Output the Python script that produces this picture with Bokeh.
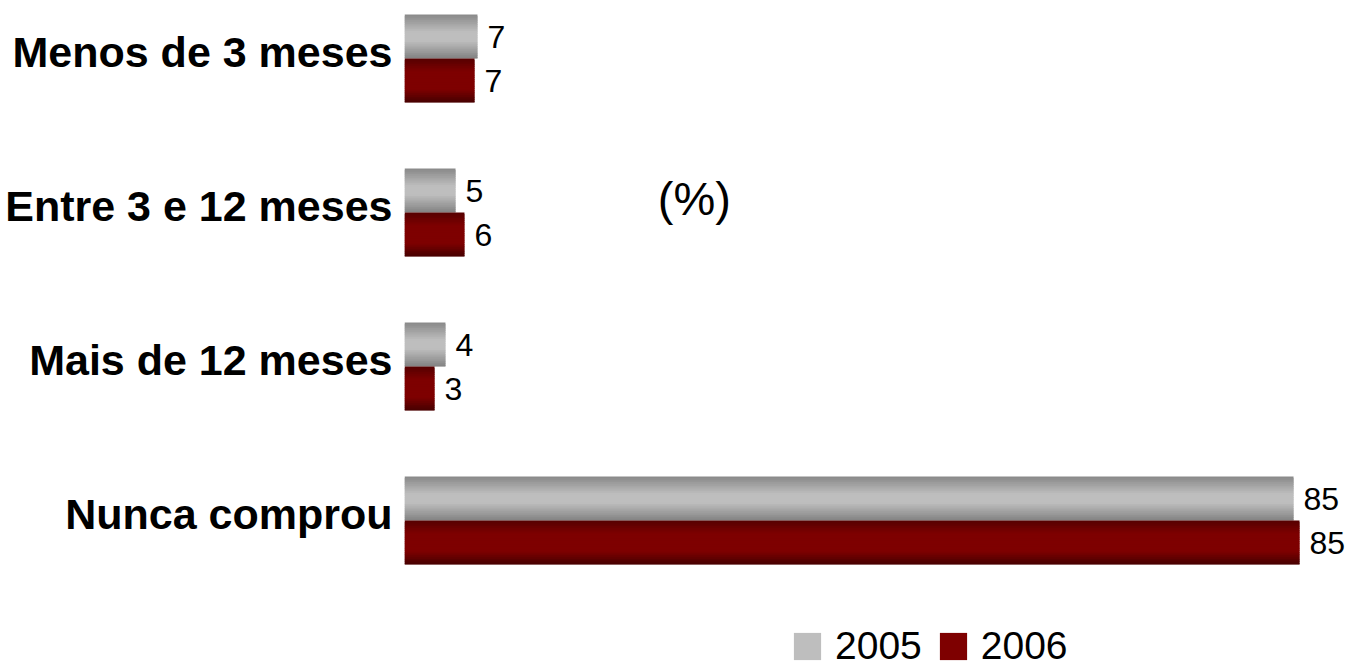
from bokeh.plotting import figure
from bokeh.models import Range1d, FixedTicker, Legend, LegendItem, Label, ColumnDataSource
from bokeh.core.properties import value
from bokeh.embed import file_html
from bokeh.resources import INLINE

categories = ["Menos de 3 meses", "Entre 3 e 12 meses", "Mais de 12 meses", "Nunca comprou"]
series_names = ["2005", "2006"]
values_2005 = [6.95, 4.86, 3.9, 84.67]
values_2006 = [6.67, 5.71, 2.86, 85.24]
labels_2005 = ["7", "5", "4", "85"]
labels_2006 = ["7", "6", "3", "85"]
unit_title = "(%)"

FONT = "Liberation Sans"
BAR_H = 0.2857        # height of one bar, in category units
GROUP_SHIFT = 0.0455  # bars sit slightly below the label centre
N_STRIPS = 24

W, H = 1345, 668
LEFT = 404
PX_PER_UNIT = 10.5
PX_PER_CAT = 154.0
TOP_CAT_PX = 51.0

p = figure(width=W, height=H, output_backend="svg", toolbar_location=None,
           x_range=Range1d(0, (W - LEFT) / PX_PER_UNIT),
           y_range=Range1d((H - TOP_CAT_PX) / PX_PER_CAT, -TOP_CAT_PX / PX_PER_CAT),
           min_border_left=LEFT, min_border_right=0, min_border_top=0, min_border_bottom=0)
p.outline_line_color = None
p.xgrid.visible = False
p.ygrid.visible = False
p.xaxis.visible = False
p.background_fill_color = "white"
p.border_fill_color = "white"

yax = p.yaxis[0]
yax.ticker = FixedTicker(ticks=list(range(len(categories))))
yax.major_label_overrides = {i: c for i, c in enumerate(categories)}
yax.axis_line_color = None
yax.major_tick_line_color = None
yax.major_tick_out = 0
yax.major_tick_in = 0
yax.minor_tick_line_color = None
yax.major_label_text_font = FONT
yax.major_label_text_font_style = "bold"
yax.major_label_text_font_size = "43px"
yax.major_label_text_color = "black"
yax.major_label_standoff = 12


def interp(stops, t):
    for (t0, c0), (t1, c1) in zip(stops, stops[1:]):
        if t0 <= t <= t1:
            f = 0 if t1 == t0 else (t - t0) / (t1 - t0)
            return tuple(int(round(a + (b - a) * f)) for a, b in zip(c0, c1))
    return stops[-1][1]


gray_stops = [(0.0, (136, 136, 136)), (0.4, (190, 190, 190)), (0.6, (190, 190, 190)), (1.0, (130, 130, 130))]
red_stops = [(0.0, (85, 0, 0)), (0.3, (126, 0, 0)), (0.7, (126, 0, 0)), (1.0, (70, 0, 0))]

legend_renderers = {}
n = len(categories)
for s_idx, (vals, labs, stops, shift) in enumerate([
        (values_2005, labels_2005, gray_stops, GROUP_SHIFT - BAR_H / 2),
        (values_2006, labels_2006, red_stops, GROUP_SHIFT + BAR_H / 2)]):
    strip_h = BAR_H / N_STRIPS
    for k in range(N_STRIPS):
        t = (k + 0.5) / N_STRIPS
        col = "#%02x%02x%02x" % interp(stops, t)
        top_off = -BAR_H / 2 + k * strip_h
        bot_off = min(-BAR_H / 2 + (k + 1.8) * strip_h, BAR_H / 2)
        ys = [i + shift + (top_off + bot_off) / 2 for i in range(n)]
        r = p.hbar(y=ys, left=0, right=vals, height=bot_off - top_off,
                   fill_color=col, line_color=None)
        if k == N_STRIPS // 2:
            legend_renderers[s_idx] = r
    src = ColumnDataSource(dict(x=vals, y=[i + shift for i in range(n)], t=labs))
    p.text(x="x", y="y", text="t", source=src, x_offset=10,
           text_font=value(FONT), text_font_size="32px", text_color="black",
           text_align="left", text_baseline="middle")

legend = Legend(items=[LegendItem(label=series_names[0], renderers=[legend_renderers[0]]),
                       LegendItem(label=series_names[1], renderers=[legend_renderers[1]])],
                orientation="horizontal", location=(386, 0),
                glyph_width=34, glyph_height=34, label_standoff=11, spacing=14,
                padding=0, margin=0, border_line_alpha=0, background_fill_alpha=0,
                label_text_font=FONT, label_text_font_size="39px", label_text_color="black")
p.add_layout(legend)

p.add_layout(Label(x=27.6, y=0.9545, text=unit_title, text_font=FONT, text_font_size="47px",
                   text_align="center", text_baseline="middle", text_color="black"))

open("out.html", "w").write(file_html(p, INLINE))
